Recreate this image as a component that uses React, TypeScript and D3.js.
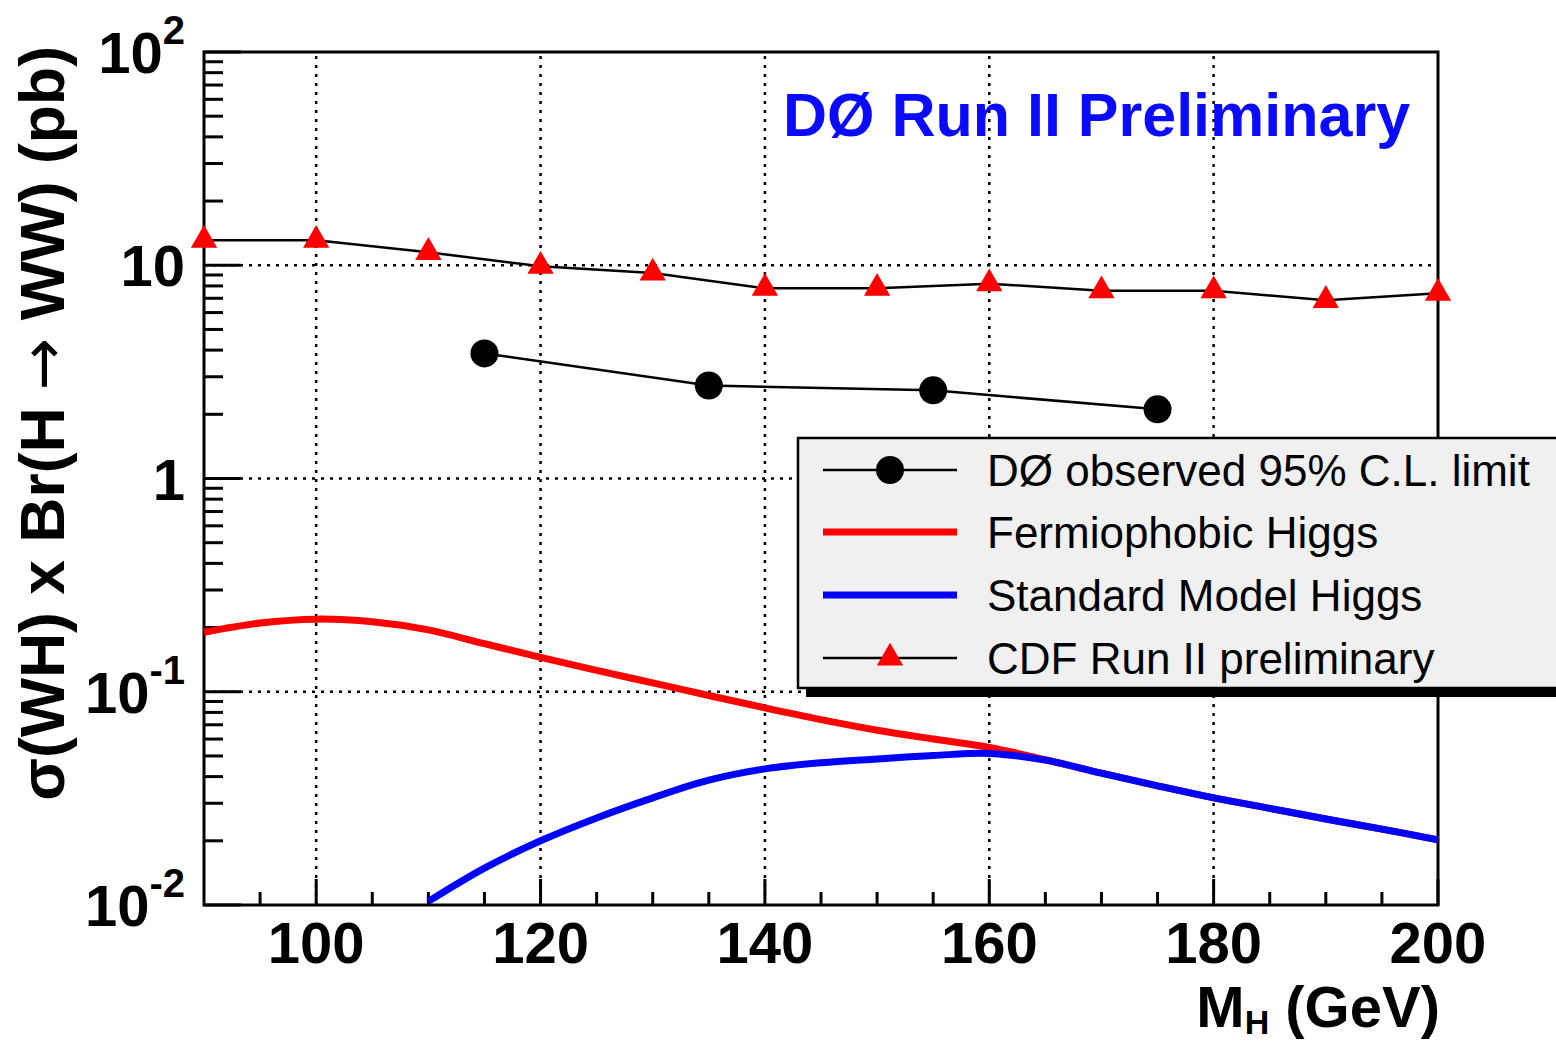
import React from 'react';
import * as d3 from 'd3';

// CDF Run II preliminary limit
const cdfMass = [90, 100, 110, 120, 130, 140, 150, 160, 170, 180, 190, 200];
const cdfLimit = [13.1, 13.1, 11.5, 9.9, 9.2, 7.8, 7.8, 8.2, 7.6, 7.6, 6.85, 7.4];

// DØ observed 95% C.L. limit
const d0Mass = [115, 135, 155, 175];
const d0Limit = [3.86, 2.73, 2.59, 2.11];

// Fermiophobic Higgs
const fpMass = [90, 95, 100, 105, 110, 115, 120, 125, 130, 135, 140, 145, 150, 155, 160, 165, 170, 175, 180, 185, 190, 195, 200];
const fpXsec = [0.19, 0.21, 0.219, 0.213, 0.195, 0.168, 0.145, 0.126, 0.11, 0.096, 0.084, 0.074, 0.066, 0.06, 0.0548, 0.048, 0.0415, 0.0362, 0.0318, 0.0284, 0.0253, 0.0227, 0.0202];

// Standard Model Higgs
const smMass = [110, 115, 120, 125, 130, 135, 140, 145, 150, 155, 160, 165, 170, 175, 180, 185, 190, 195, 200];
const smXsec = [0.0104, 0.0149, 0.02, 0.0256, 0.0318, 0.0385, 0.0435, 0.0465, 0.0484, 0.0502, 0.0514, 0.0478, 0.0415, 0.0362, 0.0318, 0.0284, 0.0253, 0.0227, 0.0202];

const xTickLabels = [100, 120, 140, 160, 180, 200];
const yTickValues = [0.01, 0.1, 1, 10, 100];
const yTickBase = ['10', '10', '1', '10', '10'];
const yTickExp = ['-2', '-1', '', '', '2'];

const legendLabels = ['DØ observed 95% C.L. limit', 'Fermiophobic Higgs', 'Standard Model Higgs', 'CDF Run II preliminary'];

const FONT = "'Liberation Sans', Arial, Helvetica, sans-serif";

export default function App() {
  const width = 1556;
  const height = 1043;
  const x = d3.scaleLinear().domain([90, 200]).range([204, 1438]);
  const y = d3.scaleLog().domain([0.01, 100]).range([905, 52]);
  const [x0, x1] = x.range();
  const [y0, y1] = y.range();

  const straight = d3.line<[number, number]>().x(d => x(d[0])).y(d => y(d[1]));
  const smooth = d3.line<[number, number]>().x(d => x(d[0])).y(d => y(d[1])).curve(d3.curveCatmullRom.alpha(0.5));

  const cdfPts = cdfMass.map((m, i) => [m, cdfLimit[i]] as [number, number]);
  const d0Pts = d0Mass.map((m, i) => [m, d0Limit[i]] as [number, number]);
  const fpPts = fpMass.map((m, i) => [m, fpXsec[i]] as [number, number]);
  const smPts = smMass.map((m, i) => [m, smXsec[i]] as [number, number]);

  const xMinor = d3.range(95, 200, 5).filter(v => v % 20 !== 0);
  const yMinor: number[] = [];
  [0.01, 0.1, 1, 10].forEach(d => { for (let k = 2; k <= 9; k++) yMinor.push(d * k); });

  const tri = d3.symbol().type(d3.symbolTriangle).size(300)();

  const legX = 798, legY = 438, legW = 762, legH = 250;
  const rowY = [470, 532, 595, 658];

  return (
    <svg width={width} height={height} style={{ position: 'absolute', left: 0, top: 0, background: '#fff' }}>
      <rect x={0} y={0} width={width} height={height} fill="#fff" />

      {/* grid */}
      {xTickLabels.filter(v => v < 200).map(v => (
        <line key={'gx' + v} x1={x(v)} x2={x(v)} y1={y0} y2={y1} stroke="#000" strokeWidth={2.5} strokeDasharray="3,6" />
      ))}
      {[0.1, 1, 10].map(v => (
        <line key={'gy' + v} x1={x0} x2={x1} y1={y(v)} y2={y(v)} stroke="#000" strokeWidth={2.5} strokeDasharray="3,6" />
      ))}

      {/* ticks */}
      {xTickLabels.map(v => (
        <line key={'tx' + v} x1={x(v)} x2={x(v)} y1={y0} y2={y0 - 26} stroke="#000" strokeWidth={3} />
      ))}
      {xMinor.map(v => (
        <line key={'mx' + v} x1={x(v)} x2={x(v)} y1={y0} y2={y0 - 13} stroke="#000" strokeWidth={3} />
      ))}
      {yTickValues.map(v => (
        <line key={'ty' + v} x1={x0} x2={x0 + 37} y1={y(v)} y2={y(v)} stroke="#000" strokeWidth={3} />
      ))}
      {yMinor.map(v => (
        <line key={'my' + v} x1={x0} x2={x0 + 19} y1={y(v)} y2={y(v)} stroke="#000" strokeWidth={3} />
      ))}

      {/* frame */}
      <rect x={x0} y={y1} width={x1 - x0} height={y0 - y1} fill="none" stroke="#000" strokeWidth={3} />

      {/* theory curves */}
      <path d={smooth(fpPts) || ''} fill="none" stroke="#ff0000" strokeWidth={7} />
      <path d={smooth(smPts) || ''} fill="none" stroke="#0000ff" strokeWidth={7} />

      {/* CDF */}
      <path d={straight(cdfPts) || ''} fill="none" stroke="#000" strokeWidth={2.5} />
      {cdfPts.map(p => (
        <path key={'c' + p[0]} d={tri || ''} transform={`translate(${x(p[0])},${y(p[1])})`} fill="#ff0000" />
      ))}

      {/* D0 */}
      <path d={straight(d0Pts) || ''} fill="none" stroke="#000" strokeWidth={2.5} />
      {d0Pts.map(p => (
        <circle key={'d' + p[0]} cx={x(p[0])} cy={y(p[1])} r={14} fill="#000" />
      ))}

      {/* x tick labels */}
      {xTickLabels.map(v => (
        <text key={'lx' + v} x={x(v)} y={963} textAnchor="middle" fontFamily={FONT} fontWeight="bold" fontSize={58}>{v}</text>
      ))}

      {/* y tick labels */}
      {yTickValues.map((v, i) => (
        <text key={'ly' + v} x={185} y={y(v) + 21} textAnchor="end" fontFamily={FONT} fontWeight="bold" fontSize={58}>
          {yTickBase[i]}
          {yTickExp[i] && <tspan fontSize={40} dy={-29}>{yTickExp[i]}</tspan>}
        </text>
      ))}

      {/* axis titles */}
      <text x={1440} y={1027} textAnchor="end" fontFamily={FONT} fontWeight="bold" fontSize={58}>
        M<tspan fontSize={34} dy={7}>H</tspan><tspan dy={-7}> (GeV)</tspan>
      </text>
      <text transform="translate(64,46) rotate(-90)" textAnchor="end" fontFamily={FONT} fontWeight="bold" fontSize={62.5}>
        σ(WH) x Br(H <tspan fontWeight="normal" fontFamily="'DejaVu Sans', sans-serif">→</tspan> WW) (pb)
      </text>

      {/* experiment label */}
      <text x={783} y={136} fontFamily={FONT} fontWeight="bold" fontSize={61} fill="#0a0aff">DØ Run II Preliminary</text>

      {/* legend */}
      <rect x={legX + 8} y={legY + 9} width={legW} height={legH} fill="#000" />
      <rect x={legX} y={legY} width={legW} height={legH} fill="#f0f0f0" stroke="#000" strokeWidth={2.5} />
      <line x1={823} x2={957} y1={rowY[0]} y2={rowY[0]} stroke="#000" strokeWidth={2.5} />
      <circle cx={890} cy={rowY[0]} r={14} fill="#000" />
      <line x1={823} x2={957} y1={rowY[1]} y2={rowY[1]} stroke="#ff0000" strokeWidth={7} />
      <line x1={823} x2={957} y1={rowY[2]} y2={rowY[2]} stroke="#0000ff" strokeWidth={7} />
      <line x1={823} x2={957} y1={rowY[3]} y2={rowY[3]} stroke="#000" strokeWidth={2.5} />
      <path d={tri || ''} transform={`translate(890,${rowY[3]})`} fill="#ff0000" />
      {legendLabels.map((t, i) => (
        <text key={t} x={987} y={rowY[i] + 16} fontFamily={FONT} fontSize={44}>{t}</text>
      ))}
    </svg>
  );
}
